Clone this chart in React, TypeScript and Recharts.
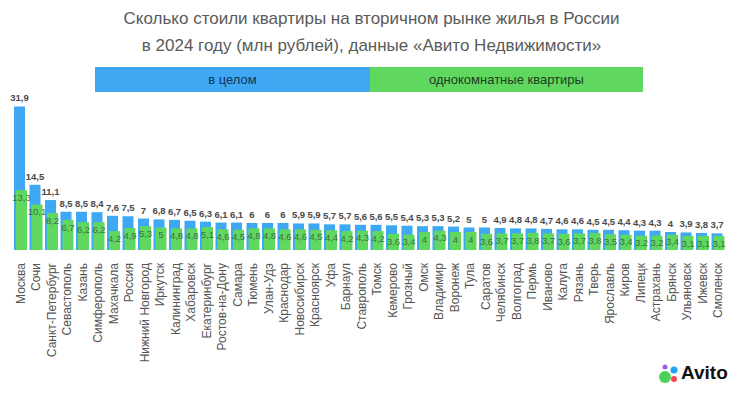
import React from "react";
import { BarChart, Bar, XAxis, YAxis, LabelList } from "recharts";

const categories = [
  "Москва", "Сочи", "Санкт-Петербург", "Севастополь", "Казань", "Симферополь",
  "Махачкала", "Россия", "Нижний Новгород", "Иркутск", "Калининград", "Хабаровск",
  "Екатеринбург", "Ростов-на-Дону", "Самара", "Тюмень", "Улан-Удэ", "Краснодар",
  "Новосибирск", "Красноярск", "Уфа", "Барнаул", "Ставрополь", "Томск",
  "Кемерово", "Грозный", "Омск", "Владимир", "Воронеж", "Тула",
  "Саратов", "Челябинск", "Волгоград", "Пермь", "Иваново", "Калуга",
  "Рязань", "Тверь", "Ярославль", "Киров", "Липецк", "Астрахань",
  "Брянск", "Ульяновск", "Ижевск", "Смоленск",
];

const totalValues = [
  31.9, 14.5, 11.1, 8.5, 8.5, 8.4,
  7.6, 7.5, 7, 6.8, 6.7, 6.5,
  6.3, 6.1, 6.1, 6, 6, 6,
  5.9, 5.9, 5.7, 5.7, 5.6, 5.6,
  5.5, 5.4, 5.3, 5.3, 5.2, 5,
  5, 4.9, 4.8, 4.8, 4.7, 4.6,
  4.6, 4.5, 4.5, 4.4, 4.3, 4.3,
  4, 3.9, 3.8, 3.7,
];

const oneRoomValues = [
  13.3, 10.1, 8.2, 6.7, 6.2, 6.2,
  4.2, 4.9, 5.3, 5, 4.8, 4.8,
  5.1, 4.6, 4.5, 4.8, 4.8, 4.6,
  4.6, 4.5, 4.4, 4.2, 4.3, 4.2,
  3.6, 3.4, 4, 4.3, 4, 4,
  3.6, 3.7, 3.7, 3.8, 3.7, 3.6,
  3.7, 3.8, 3.5, 3.4, 3.2, 3.2,
  3.4, 3.1, 3.1, 3.1,
];

const seriesNames = ["в целом", "однокомнатные квартиры"];
const titleLines = [
  "Сколько стоили квартиры на вторичном рынке жилья в России",
  "в 2024 году (млн рублей), данные «Авито Недвижимости»",
];

const BLUE = "#3ea8f3";
const GREEN = "#60d860";
const FONT = "'Liberation Sans', Arial, sans-serif";

const data = categories.map((name, i) => ({
  name,
  total: totalValues[i],
  oneRoom: oneRoomValues[i],
}));

const fmt = (v: any) => String(v).replace(".", ",");

const RotTick = (props: any) => {
  const { x, y, payload } = props;
  return (
    <text
      x={x}
      y={y + 5}
      transform={`rotate(-90, ${x}, ${y + 5})`}
      textAnchor="end"
      dominantBaseline="central"
      fontSize={12}
      fontFamily={FONT}
      fill="#555"
    >
      {payload.value}
    </text>
  );
};

export default function App() {
  return (
    <div
      style={{
        position: "absolute",
        left: 0,
        top: 0,
        width: 743,
        height: 400,
        background: "#fff",
        fontFamily: FONT,
        overflow: "hidden",
      }}
    >
      <div
        style={{
          position: "absolute",
          left: 0,
          top: 5,
          width: 743,
          textAlign: "center",
          fontSize: 17,
          lineHeight: "27px",
          color: "#5a5a5a",
        }}
      >
        <div>{titleLines[0]}</div>
        <div>{titleLines[1]}</div>
      </div>
      <div
        style={{
          position: "absolute",
          left: 95,
          top: 67,
          width: 275,
          height: 25,
          background: BLUE,
          color: "#12355c",
          fontSize: 13,
          lineHeight: "25px",
          textAlign: "center",
        }}
      >
        {seriesNames[0]}
      </div>
      <div
        style={{
          position: "absolute",
          left: 370,
          top: 67,
          width: 273,
          height: 25,
          background: GREEN,
          color: "#1d3d1d",
          fontSize: 13,
          lineHeight: "25px",
          textAlign: "center",
        }}
      >
        {seriesNames[1]}
      </div>
      <div style={{ position: "absolute", left: 0, top: 0 }}>
        <BarChart
          width={743}
          height={400}
          data={data}
          margin={{ top: 106, right: 17, left: 13, bottom: 0 }}
          barSize={11}
          barGap={-9}
        >
          <XAxis
            dataKey="name"
            interval={0}
            height={150}
            axisLine={false}
            tickLine={false}
            tick={<RotTick />}
          />
          <YAxis hide domain={[0, 32]} />
          <Bar dataKey="total" fill={BLUE} isAnimationActive={false}>
            <LabelList
              dataKey="total"
              position="top"
              offset={5}
              formatter={fmt}
              fontSize={9.5}
              fontWeight="bold"
              fontFamily={FONT}
              fill="#4a4a4a"
            />
          </Bar>
          <Bar dataKey="oneRoom" fill={GREEN} isAnimationActive={false}>
            <LabelList
              dataKey="oneRoom"
              position="insideTop"
              offset={4}
              formatter={fmt}
              fontSize={9.5}
              fontFamily={FONT}
              fill="#3e6e40"
            />
          </Bar>
        </BarChart>
      </div>
      <div
        style={{
          position: "absolute",
          left: 658,
          top: 362,
          display: "flex",
          alignItems: "center",
        }}
      >
        <svg width={22} height={22}>
          <circle cx={7} cy={15} r={6} fill="#4cd25a" />
          <circle cx={16} cy={8} r={3.5} fill="#1fa5f5" />
          <circle cx={16} cy={17} r={3} fill="#ff4053" />
          <circle cx={7} cy={5} r={2.5} fill="#9a5cf5" />
        </svg>
        <span style={{ fontSize: 19, fontWeight: "bold", color: "#111", marginLeft: 1 }}>Avito</span>
      </div>
    </div>
  );
}
